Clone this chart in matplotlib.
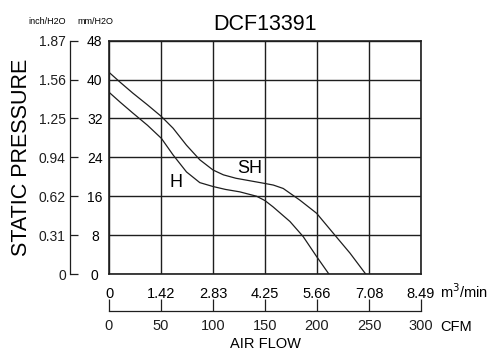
import matplotlib
matplotlib.use("Agg")
import matplotlib.pyplot as plt
import matplotlib.transforms as mtrans

plt.rcParams['font.family'] = ['Liberation Sans', 'DejaVu Sans']

# ---- data (CFM vs mmH2O) ----
sh_cfm = [0, 11, 23, 37, 50.4, 61.6, 74.5, 87.3, 100, 110, 122, 135, 148,
          158, 167.5, 183.5, 199.6, 215.6, 231.7, 246.8]
sh_mm  = [41.5, 39.4, 37.2, 34.8, 32.4, 30.0, 26.5, 23.5, 21.4, 20.4, 19.7, 19.2, 18.7,
          18.3, 17.6, 15.2, 12.5, 8.4, 4.3, 0.0]
h_cfm  = [0, 11, 23, 37, 50.4, 61.6, 74.5, 87.3, 100, 112, 125.8, 141.9, 150, 157.8,
          174, 186.7, 199.6, 211.4]
h_mm   = [37.4, 35.3, 33.1, 30.6, 27.9, 24.5, 21.0, 18.8, 18.0, 17.4, 16.9, 16.0, 15.1, 13.8,
          10.8, 7.7, 3.6, 0.0]

cfm_ticks = [0, 50, 100, 150, 200, 250, 300]
m3_labels = ['0', '1.42', '2.83', '4.25', '5.66', '7.08', '8.49']
mm_ticks = [0, 8, 16, 24, 32, 40, 48]
inch_labels = ['0', '0.31', '0.62', '0.94', '1.25', '1.56', '1.87']
title = 'DCF13391'

W, H = 491, 351
fig = plt.figure(figsize=(W/100, H/100), dpi=100)
ink = '#1e1e1e'

L, R, T, B = 109, 421, 40.7, 274
ax = fig.add_axes([L/W, 1-B/H, (R-L)/W, (B-T)/H])
ax.set_xlim(0, 300)
ax.set_ylim(0, 48)
ax.set_xticks(cfm_ticks)
ax.set_xticklabels(m3_labels, fontsize=10.5)
ax.tick_params(axis='x', length=0, pad=9)
ax.set_yticks(mm_ticks)
ax.tick_params(axis='y', length=0, labelleft=False)
ax.grid(True, color=ink, linewidth=1.0)
for s in ax.spines.values():
    s.set_linewidth(1.2)
    s.set_color(ink)

ax.plot(sh_cfm, sh_mm, color=ink, lw=0.9)
ax.plot(h_cfm, h_mm, color=ink, lw=0.9)
ax.text(64, 18.9, 'H', fontsize=13, ha='center', va='center')
ax.text(135.5, 21.8, 'SH', fontsize=13, ha='center', va='center')
ax.set_title(title, fontsize=15.5, pad=8)

ax.text(1.061, -0.075, 'm$^3$/min', transform=ax.transAxes, fontsize=10.5, ha='left', va='center')

# CFM secondary axis
loc = -(311 - B) / (B - T)
sec = ax.secondary_xaxis(loc)
sec.set_xticks(cfm_ticks)
sec.set_xticklabels([str(v) for v in cfm_ticks], fontsize=10.5)
sec.tick_params(direction='in', length=9, width=0.9, pad=6, colors=ink)
sec.spines['bottom'].set_linewidth(0.9)
sec.spines['bottom'].set_color(ink)
sec.set_xlabel('AIR FLOW', fontsize=10.5, labelpad=3)
ax.text(1.061, loc - 0.07, 'CFM', transform=ax.transAxes, fontsize=10.5, ha='left', va='center')

# left pressure axis (inch labels + spine)
axl = fig.add_axes([70/W, 1-B/H, 5/W, (B-T)/H])
axl.set_ylim(0, 48)
axl.set_yticks(mm_ticks)
axl.set_yticklabels(inch_labels, fontsize=10)
axl.set_xticks([])
for k in ['top', 'right', 'bottom']:
    axl.spines[k].set_visible(False)
axl.spines['left'].set_linewidth(0.9)
axl.spines['left'].set_color(ink)
axl.patch.set_visible(False)
axl.tick_params(axis='y', direction='in', length=6, width=0.9, pad=3, colors=ink)
axl.set_ylabel('STATIC PRESSURE', fontsize=15.5, labelpad=5)

# mm labels
axm = fig.add_axes([70/W, 1-B/H, 5/W, (B-T)/H])
axm.set_ylim(0, 48)
axm.set_yticks(mm_ticks)
axm.set_yticklabels([str(v) for v in mm_ticks], fontsize=10)
axm.set_xticks([])
for s in axm.spines.values():
    s.set_visible(False)
axm.patch.set_visible(False)
axm.tick_params(axis='y', left=False, right=False, labelleft=False, labelright=True, pad=0)
offset = mtrans.ScaledTranslation(15/100, 0, fig.dpi_scale_trans)
for lab in axm.get_yticklabels():
    lab.set_horizontalalignment('center')
    lab.set_transform(lab.get_transform() + offset)

fig.text(47/W, 1-22/H, 'inch/H2O', fontsize=6.5, ha='center', va='center')
fig.text(95/W, 1-22/H, 'mm/H2O', fontsize=6.5, ha='center', va='center')

fig.savefig('out.png', dpi=100)
